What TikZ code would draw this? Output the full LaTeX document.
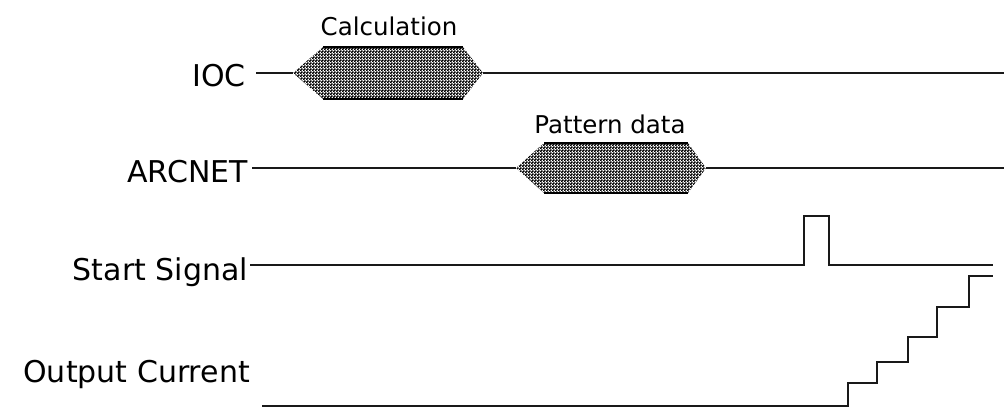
\documentclass[tikz,border=0pt]{standalone}
\usepackage{fontspec}
\setmainfont{DejaVu Sans}
\usetikzlibrary{patterns,positioning,calc}

% fine dither like the original screen pattern
\pgfdeclarepatternformonly{finechecker}{\pgfpointorigin}{\pgfqpoint{3pt}{3pt}}{\pgfqpoint{3pt}{3pt}}{
  \pgfpathrectangle{\pgfpointorigin}{\pgfqpoint{2pt}{2pt}}
  \pgfpathrectangle{\pgfqpoint{1.5pt}{1.5pt}}{\pgfqpoint{2pt}{2pt}}
  \pgfusepath{fill}
}

\begin{document}
\begin{tikzpicture}[x=1pt,y=-1pt,
    lbl/.style={anchor=base east, inner sep=0pt, font=\fontsize{30}{36}\selectfont},
    buslbl/.style={inner sep=0pt, font=\fontsize{24.5}{30}\selectfont},
    sig/.style={line width=2.4pt, black!90, line join=miter},
    busfill/.style={pattern=finechecker, pattern color=black},
    busedge/.style={line width=2.6pt, black}]
    \useasboundingbox (0,0) rectangle (1004,410);

    % Signal names
    \node[lbl] (ioc) at (246,86) {IOC};
    \node[lbl] (arc) at (248,182) {ARCNET};
    \node[lbl] (start) at (248,280) {Start Signal};
    \node[lbl] (out) at (250,382) {Output Current};

    % IOC trace with calculation
    \coordinate (iocL) at (293,73);
    \coordinate (iocTL) at (323,47);
    \coordinate (iocTR) at (463,47);
    \coordinate (iocR) at (483,73);
    \coordinate (iocBR) at (463,99);
    \coordinate (iocBL) at (323,99);
    \coordinate (iocEnd) at (1004,73);
    \fill[busfill] (iocL) -- (iocTL) -- (iocTR) -- (iocR) -- (iocBR) -- (iocBL) -- cycle;
    \draw[busedge] (iocTL) -- (iocTR) (iocBL) -- (iocBR);
    \draw[sig] ($(ioc.east |- iocL)+(10,0)$) -- (iocL);
    \draw[sig] (iocR) -- (iocEnd);
    \node[buslbl] (calc) at (389,26) {Calculation};

    % ARCNET trace with pattern data
    \coordinate (arcL) at (516,168);
    \coordinate (arcTL) at (544,143);
    \coordinate (arcTR) at (688,143);
    \coordinate (arcR) at (706,168);
    \coordinate (arcBR) at (688,193);
    \coordinate (arcBL) at (544,193);
    \coordinate (arcEnd) at (1004,168);
    \fill[busfill] (arcL) -- (arcTL) -- (arcTR) -- (arcR) -- (arcBR) -- (arcBL) -- cycle;
    \draw[busedge] (arcTL) -- (arcTR) (arcBL) -- (arcBR);
    \draw[sig] ($(arc.east |- arcL)+(4,0)$) -- (arcL);
    \draw[sig] (arcR) -- (arcEnd);
    \node[buslbl] (pat) at (610,124) {Pattern data};

    % Start pulse
    \coordinate (pulseUp) at (804,265);
    \coordinate (pulseDn) at (829,216);
    \coordinate (startEnd) at (993,265);
    \draw[sig] ($(start.east |- pulseUp)+(2,0)$) -- (pulseUp) |- (pulseDn) -- (pulseDn |- startEnd) -- (startEnd);

    % Output current staircase
    \coordinate (curStart) at (262,406);
    \coordinate (curEnd) at (993,276);
    \draw[sig] (curStart) -| (848,383) -| (877,362) -| (908,337) -| (937,307) -| (969,276) -- (curEnd);
\end{tikzpicture}
\end{document}
